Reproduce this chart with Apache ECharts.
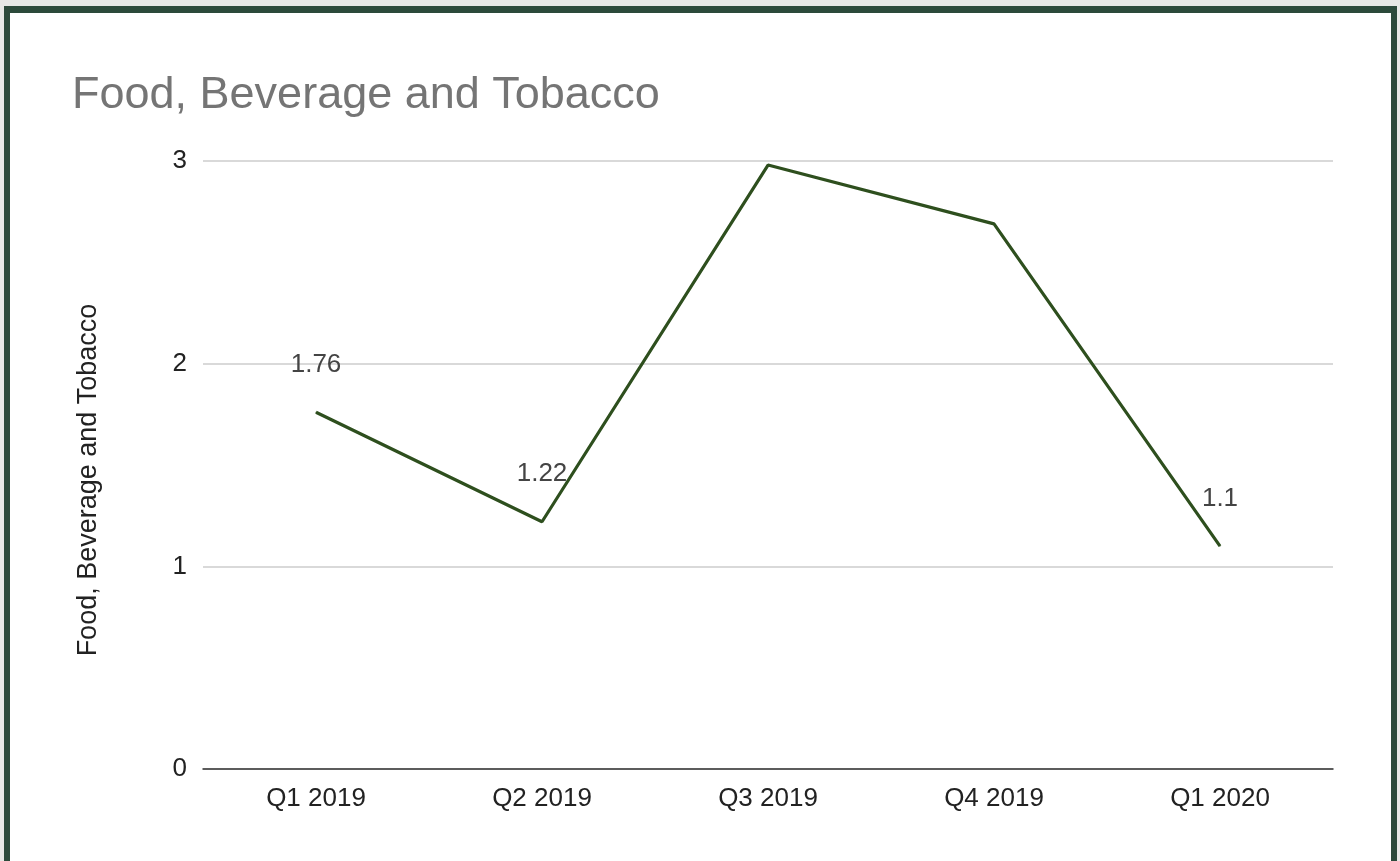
<!DOCTYPE html>
<html>
<head>
<meta charset="utf-8">
<script src="https://cdn.jsdelivr.net/npm/echarts@6/dist/echarts.min.js"></script>
<style>
  html, body { margin: 0; padding: 0; background: #e7e8e6; }
  #frame {
    position: absolute; left: 4px; top: 6px; width: 1381px; height: 855px;
    border-top: 7px solid #2c4a3b; border-left: 6px solid #2c4a3b; border-right: 6px solid #2c4a3b;
    background: #ffffff;
  }
  #main { width: 1381px; height: 855px; }
</style>
</head>
<body>
<div id="frame"><div id="main"></div></div>
<script>
// 数据
var quarters = ['Q1 2019', 'Q2 2019', 'Q3 2019', 'Q4 2019', 'Q1 2020'];
var values = [1.76, 1.22, 2.98, 2.69, 1.1];
var labelShown = [true, true, false, false, true];
var yTicks = [0, 1, 2, 3];

var chart = echarts.init(document.getElementById('main'));

//只给部分点显示数值标签
var seriesData = [];
for (var i = 0; i < values.length; i++) {
    seriesData.push({
        value: values[i],
        label: { show: labelShown[i] }
    });
}

var option = {
    animation: false,
    title: {
        text: 'Food, Beverage and Tobacco',
        left: 57,
        top: 55,
        textStyle: {
            color: '#757575',
            fontFamily: 'Liberation Sans',
            fontSize: 45,
            fontWeight: 'normal'
        }
    },
    grid: {
        left: 193,
        right: 58,
        top: 148,
        bottom: 99
    },
    xAxis: {
        type: 'category',
        boundaryGap: true,
        data: quarters,
        axisTick: { show: false },
        axisLine: { lineStyle: { color: '#333333', width: 1.5 } },
        axisLabel: {
            color: '#222222',
            fontFamily: 'Liberation Sans',
            fontSize: 26,
            margin: 17
        }
    },
    yAxis: {
        type: 'value',
        min: yTicks[0],
        max: yTicks[yTicks.length - 1],
        interval: 1,
        name: 'Food, Beverage and Tobacco',
        nameLocation: 'middle',
        nameGap: 101,
        nameTextStyle: {
            color: '#222222',
            fontFamily: 'Liberation Sans',
            fontSize: 27,
            padding: [0, 30, 0, 0]
        },
        axisLine: { show: false },
        axisTick: { show: false },
        axisLabel: {
            color: '#222222',
            fontFamily: 'Liberation Sans',
            fontSize: 26,
            margin: 16
        },
        splitLine: {
            lineStyle: { color: '#cccccc', width: 1.5 }
        }
    },
    series: [{
        type: 'line',
        data: seriesData,
        showSymbol: true,
        symbol: 'circle',
        symbolSize: 1,
        lineStyle: { color: '#2e4f1e', width: 3.2 },
        itemStyle: { color: '#2e4f1e' },
        label: {
            position: 'top',
            distance: 34,
            color: '#444444',
            fontFamily: 'Liberation Sans',
            fontSize: 26
        }
    }]
};

chart.setOption(option);
</script>
</body>
</html>
